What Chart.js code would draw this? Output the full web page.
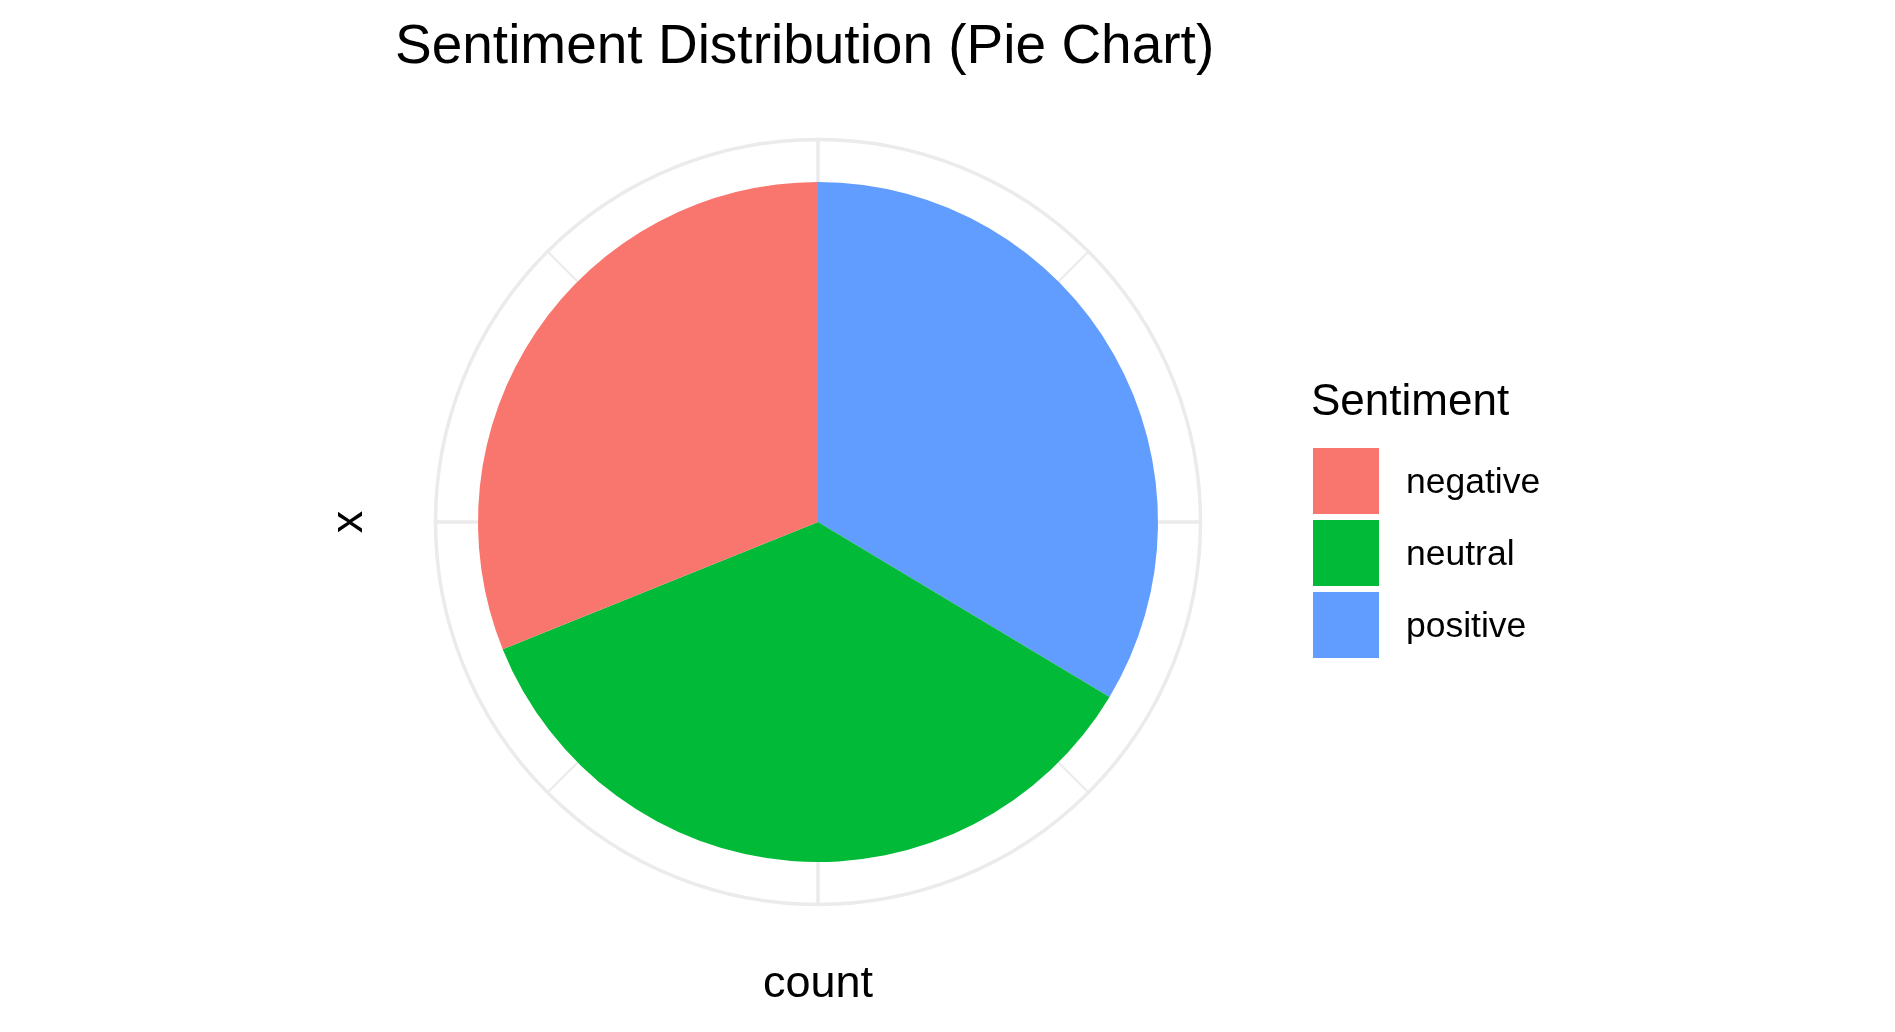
<!DOCTYPE html>
<html lang="en">
<head>
    <meta charset="UTF-8">
    <title>Sentiment Distribution (Pie Chart)</title>
    <style>
        body {
            margin: 0;
            background-color: #ffffff;
            font-family: "Liberation Sans", Arial, sans-serif;
        }

        .chart-container {
            width: 1895px;
            height: 1032px;
        }
    </style>
</head>
<body>

<div class="chart-container">
    <canvas id="sentimentChart"></canvas>
</div>

<script src="https://cdn.jsdelivr.net/npm/chart.js"></script>
<script>
    // Sentiment categories (legend order) and their counts
    const sentiments = ['negative', 'neutral', 'positive'];
    const counts = [311, 353, 336];
    const sliceColors = ['#F8766D', '#00BA38', '#619CFF'];

    const chartTitle = 'Sentiment Distribution (Pie Chart)';
    const xTitle = 'count';
    const yTitle = 'x';
    const legendTitle = 'Sentiment';

    const FONT = '"Liberation Sans", Arial, sans-serif';
    const GRID = '#EBEBEB';

    // ggplot stacks the last level first, going clockwise from 12 o'clock
    const pieLabels = sentiments.slice().reverse();
    const pieValues = counts.slice().reverse();
    const pieColors = sliceColors.slice().reverse();

    // Polar panel grid drawn under the pie, plus titles and legend
    const polarGrid = {
        id: 'polarGrid',
        beforeDatasetsDraw(chart) {
            const arc = chart.getDatasetMeta(0).data[0];
            const ctx = chart.ctx;
            const cx = arc.x, cy = arc.y;
            const outer = arc.outerRadius * 0.45 / 0.4;
            ctx.save();
            ctx.strokeStyle = GRID;
            for (let i = 0; i < 8; i++) {
                const a = i * Math.PI / 4 - Math.PI / 2;
                ctx.lineWidth = i % 2 === 0 ? 3.5 : 2;
                ctx.beginPath();
                ctx.moveTo(cx, cy);
                ctx.lineTo(cx + outer * Math.cos(a), cy + outer * Math.sin(a));
                ctx.stroke();
            }
            ctx.lineWidth = 3.5;
            ctx.beginPath();
            ctx.arc(cx, cy, outer, 0, Math.PI * 2);
            ctx.stroke();
            ctx.restore();
        },
        afterDraw(chart) {
            const arc = chart.getDatasetMeta(0).data[0];
            const ctx = chart.ctx;
            ctx.save();
            ctx.fillStyle = '#000000';

            // plot title
            ctx.font = '55px ' + FONT;
            ctx.textAlign = 'left';
            ctx.textBaseline = 'alphabetic';
            ctx.fillText(chartTitle, 395, 63);

            // axis titles
            ctx.font = '45px ' + FONT;
            ctx.textAlign = 'center';
            ctx.fillText(xTitle, arc.x, 997);
            ctx.save();
            ctx.translate(362, arc.y);
            ctx.rotate(-Math.PI / 2);
            ctx.fillText(yTitle, 0, 0);
            ctx.restore();

            // legend
            ctx.textAlign = 'left';
            ctx.font = '44px ' + FONT;
            ctx.fillText(legendTitle, 1311, 415);
            ctx.font = '35.5px ' + FONT;
            sentiments.forEach((s, i) => {
                const top = 448 + i * 72;
                ctx.fillStyle = sliceColors[i];
                ctx.fillRect(1313, top, 66, 66);
                ctx.fillStyle = '#000000';
                ctx.fillText(s, 1406, top + 45);
            });
            ctx.restore();
        }
    };

    const config = {
        type: 'pie',
        data: {
            labels: pieLabels,
            datasets: [{
                data: pieValues,
                backgroundColor: pieColors,
                borderWidth: 0
            }]
        },
        options: {
            responsive: true,
            maintainAspectRatio: false,
            animation: false,
            layout: {
                padding: { left: 478, right: 737, top: 182, bottom: 170 }
            },
            plugins: {
                legend: { display: false },
                tooltip: { enabled: false }
            }
        },
        plugins: [polarGrid]
    };

    const sentimentChart = new Chart(
        document.getElementById('sentimentChart'),
        config
    );
</script>

</body>
</html>
